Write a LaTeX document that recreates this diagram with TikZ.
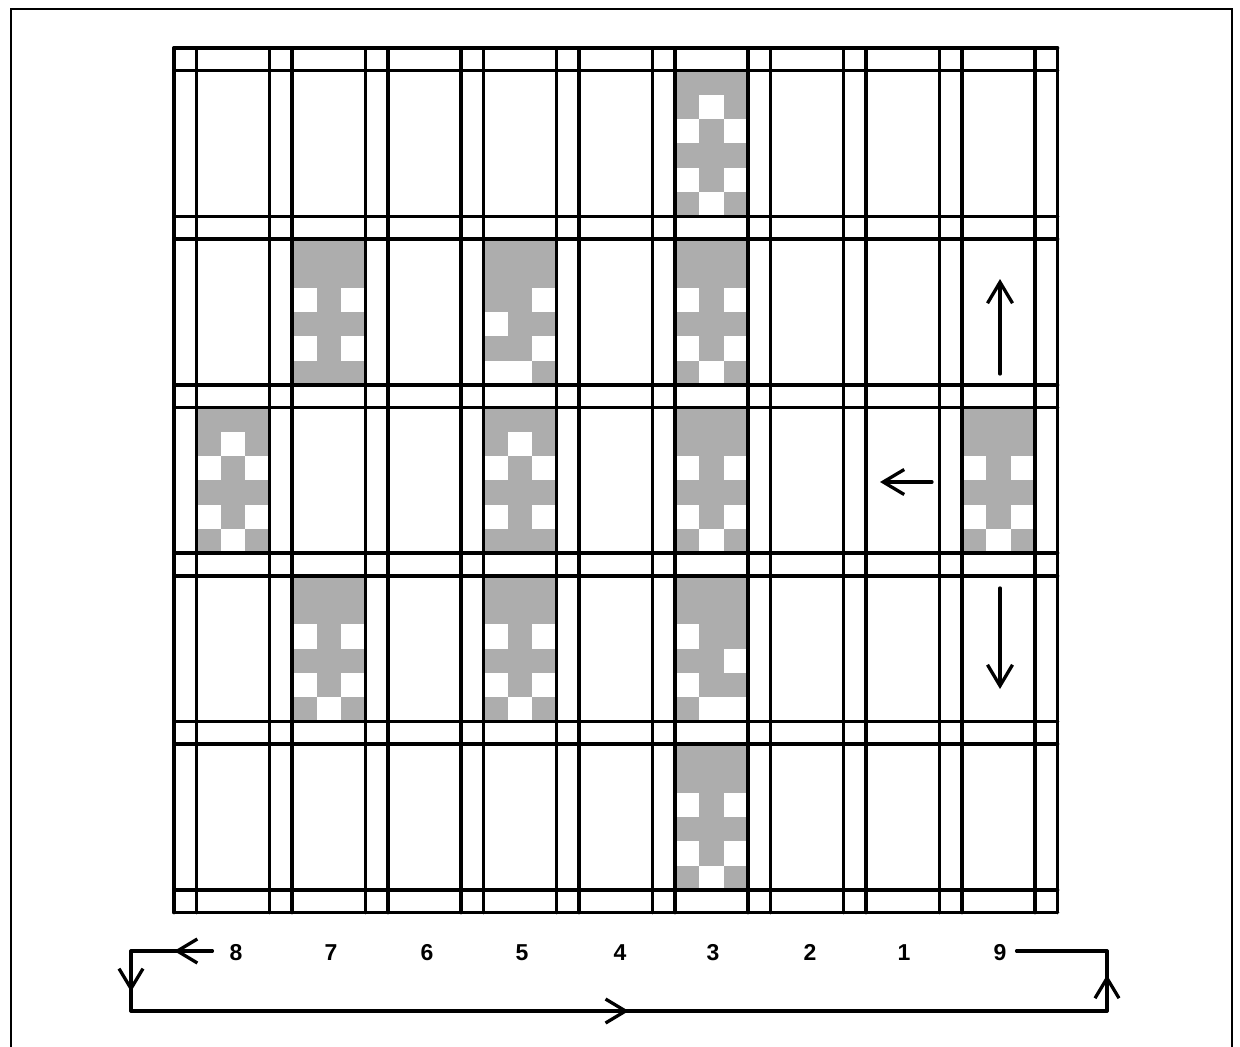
\documentclass[tikz,border=0pt]{standalone}
\usepackage{fontspec}
\setmainfont{Liberation Sans}
\usetikzlibrary{arrows.meta,decorations.markings}
\definecolor{cellgray}{gray}{0.68}
\tikzset{
  gridline/.style={line width=3.6pt, line cap=round},
  frameline/.style={line width=2pt},
  conn/.style={line width=3.3pt, line cap=round, line join=round},
  barb/.style={-{Straight Barb[length=21pt,width=25pt]}},
  midarrow/.style={postaction={decorate},
    decoration={markings, mark=at position #1 with {\arrow{Straight Barb[length=20pt,width=24pt]}}}},
  lab/.style={font=\fontsize{23}{27}\selectfont\bfseries, inner sep=0pt, anchor=base},
}
\newcommand{\graycell}[3]{%
  \pgfmathsetmacro{\gcx}{196.5+95.67*(#1-1)}%
  \pgfmathsetmacro{\gcy}{70.5+168.4*(#2-1)}%
  \fill[cellgray] (\gcx,\gcy) rectangle ++(73.17,145.9);
  \foreach \i/\j in {#3}{\fill[white] ({\gcx+\i*24.39},{\gcy+\j*24.32}) rectangle ++(24.39,24.32);}
}
\begin{document}
\begin{tikzpicture}[x=1pt,y=-1pt]
\useasboundingbox (0,0) rectangle (1240,1047);
\draw[frameline] (11,1047) -- (11,9) -- (1232,9) -- (1232,1047);
% shaded cells
\graycell{6}{1}{1/1,0/2,2/2,0/4,2/4,1/5}
\graycell{2}{2}{0/2,2/2,0/4,2/4}
\graycell{4}{2}{2/2,0/3,2/4,0/5,1/5}
\graycell{6}{2}{0/2,2/2,0/4,2/4,1/5}
\graycell{1}{3}{1/1,0/2,2/2,0/4,2/4,1/5}
\graycell{4}{3}{1/1,0/2,2/2,0/4,2/4}
\graycell{6}{3}{0/2,2/2,0/4,2/4,1/5}
\graycell{9}{3}{0/2,2/2,0/4,2/4,1/5}
\graycell{2}{4}{0/2,2/2,0/4,2/4,1/5}
\graycell{4}{4}{0/2,2/2,0/4,2/4,1/5}
\graycell{6}{4}{0/2,2/3,0/4,1/5,2/5}
\graycell{6}{5}{0/2,2/2,0/4,2/4,1/5}
% grid lines
\foreach \k in {0,...,9}{
  \draw[gridline] ({174+95.67*\k},48) -- ({174+95.67*\k},912.5);
  \draw[gridline] ({196.5+95.67*\k},48) -- ({196.5+95.67*\k},912.5);
}
\foreach \k in {0,...,5}{
  \draw[gridline] (174,{48+168.4*\k}) -- (1057.5,{48+168.4*\k});
  \draw[gridline] (174,{70.5+168.4*\k}) -- (1057.5,{70.5+168.4*\k});
}
% arrows inside grid
\coordinate (ua1) at (1000,374); \coordinate (ua2) at (1000,279);
\draw[conn,barb] (ua1) -- (ua2);
\coordinate (la1) at (932,482); \coordinate (la2) at (880,482);
\draw[conn,barb] (la1) -- (la2);
\coordinate (da1) at (1000,588); \coordinate (da2) at (1000,689);
\draw[conn,barb] (da1) -- (da2);
% labels
\node[lab] (l8) at (236,960) {8};
\node[lab] (l7) at (331,960) {7};
\node[lab] (l6) at (427,960) {6};
\node[lab] (l5) at (522,960) {5};
\node[lab] (l4) at (620,960) {4};
\node[lab] (l3) at (713,960) {3};
\node[lab] (l2) at (810,960) {2};
\node[lab] (l1) at (904,960) {1};
\node[lab] (l9) at (1000,960) {9};
% loop
\coordinate (tl) at (131,951);
\coordinate (bl) at (131,1011);
\coordinate (br) at (1107,1011);
\coordinate (tr) at (1107,951);
\draw[conn, midarrow=0.47] (l8.west |- tl) ++(-17,0) -- (tl);
\draw[conn, midarrow=0.68] (tl) -- (bl);
\draw[conn, midarrow=0.51] (bl) -- (br);
\draw[conn, midarrow=0.6] (br) -- (tr);
\draw[conn] (tr) -- ([xshift=10pt]l9.east |- tr);
\end{tikzpicture}
\end{document}
